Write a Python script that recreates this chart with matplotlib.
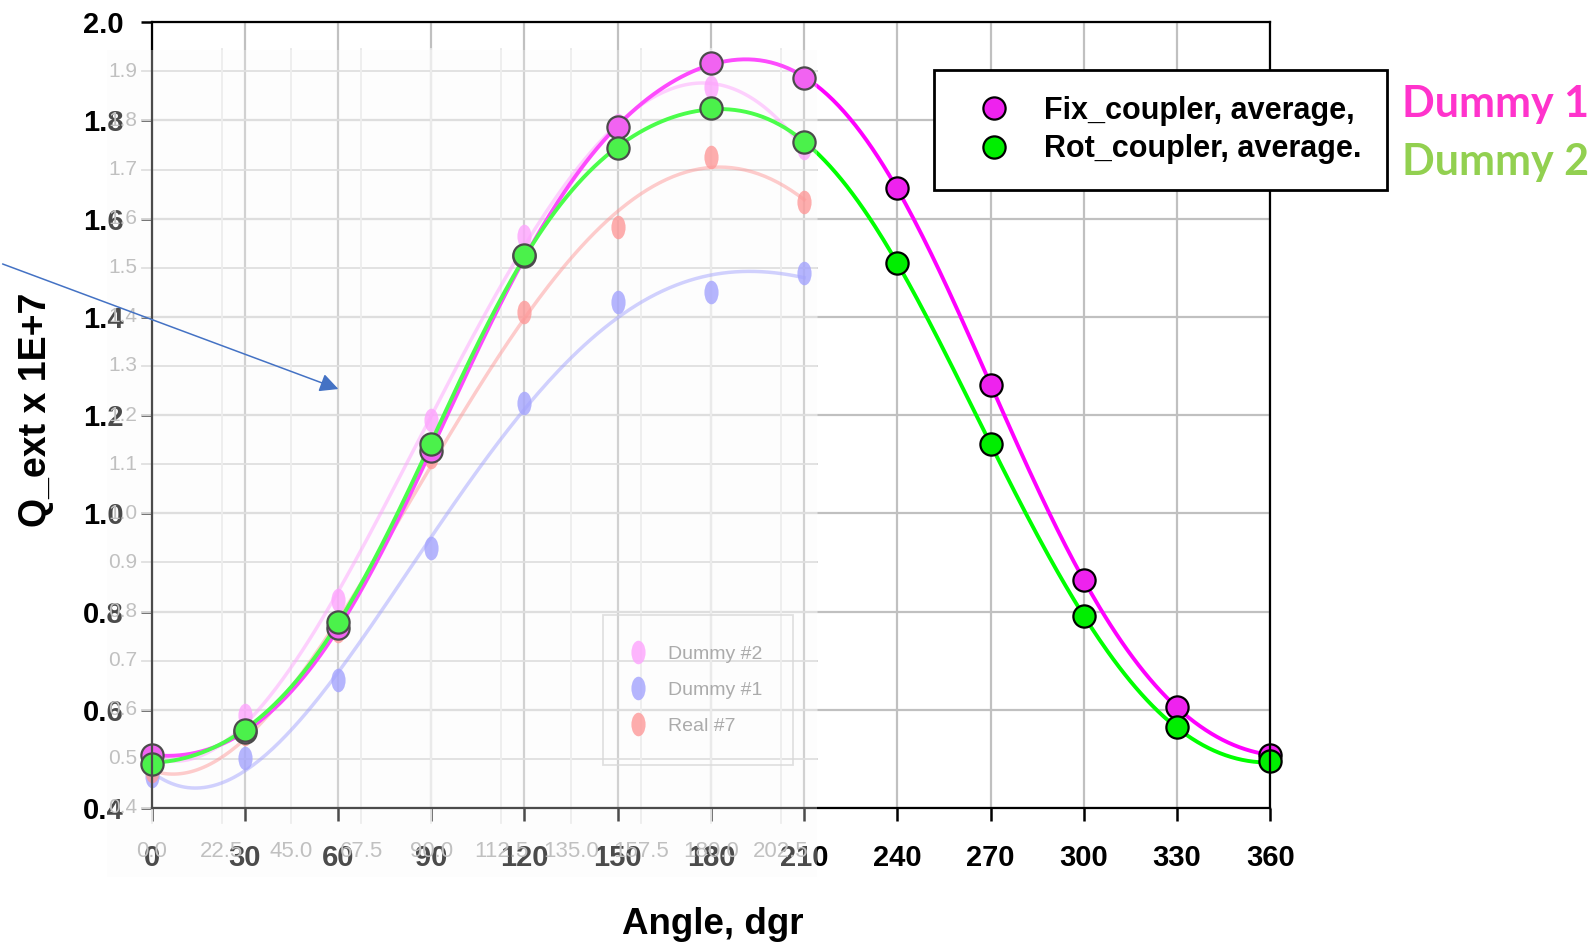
import numpy as np
import matplotlib.pyplot as plt
from matplotlib.markers import MarkerStyle
from matplotlib.transforms import Affine2D
from matplotlib.patches import Rectangle, FancyArrowPatch
from matplotlib.lines import Line2D

# main chart data
angles = [0, 30, 60, 90, 120, 150, 180, 210, 240, 270, 300, 330, 360]
fix_avg = [0.508, 0.555, 0.766, 1.127, 1.523, 1.786, 1.917, 1.886, 1.662, 1.262, 0.864, 0.605, 0.508]
rot_avg = [0.490, 0.559, 0.779, 1.142, 1.525, 1.743, 1.825, 1.756, 1.509, 1.142, 0.790, 0.564, 0.495]

# faded screenshot pasted under the chart
old_angles = [0, 30, 60, 90, 120, 150, 180, 210]
dummy2_old = [0.500, 0.589, 0.823, 1.190, 1.565, 1.790, 1.868, 1.743]
dummy1_old = [0.465, 0.502, 0.660, 0.930, 1.225, 1.430, 1.450, 1.490]
real7_old = [0.475, 0.550, 0.760, 1.115, 1.410, 1.583, 1.725, 1.634]
old_xticks = [0.0, 22.5, 45.0, 67.5, 90.0, 112.5, 135.0, 157.5, 180.0, 202.5]
old_yticks = [0.4, 0.5, 0.6, 0.7, 0.8, 0.9, 1.0, 1.1, 1.2, 1.3, 1.4, 1.5, 1.6, 1.7, 1.8, 1.9]


def fourier_fit(x, y, n=4):
    t = np.radians(np.asarray(x, float))
    cols = [np.ones_like(t)]
    for k in range(1, n + 1):
        cols += [np.cos(k * t), np.sin(k * t)]
    coef, *_ = np.linalg.lstsq(np.column_stack(cols), np.asarray(y, float), rcond=None)
    xs = np.linspace(0, 360, 400)
    ts = np.radians(xs)
    ys = coef[0] + sum(coef[2 * k - 1] * np.cos(k * ts) + coef[2 * k] * np.sin(k * ts)
                       for k in range(1, n + 1))
    return xs, ys


def poly_fit(x, y, deg=4):
    p = np.polyfit(x, y, deg)
    xs = np.linspace(min(x), max(x), 200)
    return xs, np.polyval(p, xs)


plt.rcParams['font.family'] = ['Liberation Sans', 'DejaVu Sans']
fig = plt.figure(figsize=(15.96, 9.42), dpi=100)
ax = fig.add_axes([0.0950, 0.1423, 0.7009, 0.8341])

# faded old chart: grid, curves, markers, labels
ell = MarkerStyle('o', transform=Affine2D().scale(0.6, 1.0))
for yv in old_yticks:
    ax.plot([-3, 214], [yv, yv], color='#d4d4d4', lw=1.3, zorder=0.6, clip_on=False)
for xv in old_xticks:
    ax.plot([xv, xv], [0.37, 1.945], color='#e8e8e8', lw=1.3, zorder=0.6, clip_on=False)
for yv in old_yticks:
    ax.text(-0.0125, yv, f'{yv:.1f}', transform=ax.get_yaxis_transform(), ha='right', va='center',
            fontsize=15, color='#a8a8a8', zorder=0.7)
for xv in old_xticks:
    ax.text(xv, -0.056, f'{xv:.1f}', transform=ax.get_xaxis_transform(), ha='center', va='center',
            fontsize=16, color='#a8a8a8', zorder=0.7)

old_series = [(dummy2_old, '#ff7fff', 'Dummy #2'), (dummy1_old, '#7f7fff', 'Dummy #1'),
              (real7_old, '#ff7070', 'Real #7')]
old_handles = []
for vals, col, lab in old_series:
    xs, ys = poly_fit(old_angles, vals)
    ax.plot(xs, ys, color=col, lw=2.5, alpha=0.5, zorder=1)
    ax.plot(old_angles, vals, ls='none', marker=ell, ms=17, color=col, mec='none', alpha=0.8,
            zorder=1.1, clip_on=False)
    old_handles.append(Line2D([], [], ls='none', marker=ell, ms=17, color=col, mec='none', alpha=0.8))
old_leg = ax.legend(old_handles, [s[2] for s in old_series], loc='upper left',
                    bbox_to_anchor=(603 / 1596, 1 - 615 / 942), bbox_transform=fig.transFigure,
                    prop={'size': 14}, labelcolor='#8a8a8a', frameon=True,
                    fancybox=False, facecolor='none', edgecolor='#cccccc', borderaxespad=0,
                    handlelength=0.5, handletextpad=1.3, borderpad=1.55, labelspacing=0.95)
old_leg.get_frame().set_linewidth(1.3)
old_leg.set_zorder(1.2)

# main chart
for xs, ys, col in [(*fourier_fit(angles, fix_avg), '#ff00ff'),
                    (*fourier_fit(angles, rot_avg), '#00ff00')]:
    ax.plot(xs, ys, color=col, lw=2.8, zorder=3)
ax.plot(angles, fix_avg, ls='none', marker='o', ms=16, mfc='#ee22ee', mec='black', mew=1.6,
        zorder=4, clip_on=False)
ax.plot(angles, rot_avg, ls='none', marker='o', ms=16, mfc='#00ee00', mec='black', mew=1.6,
        zorder=4, clip_on=False)

ax.set_xlim(0, 360)
ax.set_ylim(0.4, 2.0)
ax.set_xticks(range(0, 361, 30))
ax.set_yticks(np.arange(0.4, 2.01, 0.2))
ax.set_yticklabels([f'{v:.1f}' for v in np.arange(0.4, 2.01, 0.2)])
ax.grid(True, color='#c0c0c0', lw=1.6, zorder=0.5)
ax.set_axisbelow(True)
for sp in ax.spines.values():
    sp.set_linewidth(1.6)
    sp.set_color('black')
    sp.set_zorder(5)
ax.tick_params(axis='x', length=9, width=1.8, pad=17, labelsize=21)
ax.tick_params(axis='y', length=8, width=1.8, pad=12, labelsize=21)
for lab in ax.get_xticklabels() + ax.get_yticklabels():
    lab.set_fontweight('bold')
ax.set_xlabel('Angle, dgr', fontsize=26.5, fontweight='bold')
ax.set_ylabel('Q_ext x 1E+7', fontsize=27, fontweight='bold')
ax.xaxis.set_label_coords((713 - 151.7) / 1118.6, -(907 - 808) / 786)
ax.yaxis.set_label_coords(-(151.7 - 54) / 1118.6, (808 - 410) / 786)

# washed-out overlay of the pasted screenshot
fig.add_artist(Rectangle((107 / 1596, 1 - 877 / 942), 710 / 1596, 827 / 942, transform=fig.transFigure,
                         facecolor='#fafafa', edgecolor='none', alpha=0.3, zorder=1))

# main legend
handles = [Line2D([], [], ls='none', marker='o', ms=16, mfc='#ee22ee', mec='black', mew=1.6),
           Line2D([], [], ls='none', marker='o', ms=16, mfc='#00ee00', mec='black', mew=1.6)]
leg = fig.legend(handles, ['Fix_coupler, average,', 'Rot_coupler, average.'], loc='upper left',
                 bbox_to_anchor=(934 / 1596, 1 - 70 / 942), frameon=True, borderaxespad=0,
                 fancybox=False, edgecolor='black', framealpha=1, borderpad=0.85,
                 handlelength=2.2, handletextpad=0.55, labelspacing=0.27,
                 prop={'weight': 'bold', 'size': 22})
leg.get_frame().set_linewidth(2)
leg.set_zorder(6)

fig.text(1402 / 1596, 1 - 104 / 942, 'Dummy 1', color='#ff33cc', fontsize=31, fontweight='bold',
         family='Lato', va='center', ha='left')
fig.text(1402 / 1596, 1 - 162 / 942, 'Dummy 2', color='#92d050', fontsize=31, fontweight='bold',
         family='Lato', va='center', ha='left')

fig.add_artist(FancyArrowPatch((0, 1 - 263 / 942), (341 / 1596, 1 - 390 / 942), transform=fig.transFigure,
                               arrowstyle='-|>', mutation_scale=28, color='#4472c4', lw=1.1, zorder=7))

fig.savefig('out.png', dpi=100)
